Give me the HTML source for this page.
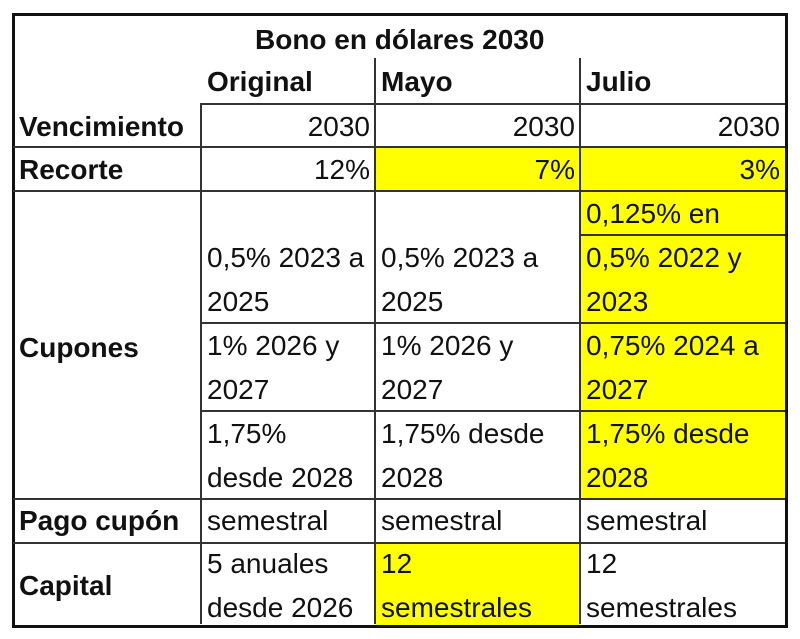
<!DOCTYPE html>
<html><head><meta charset="utf-8"><style>
body{margin:0;width:800px;height:639px;background:#fff;position:relative;overflow:hidden;font-family:"Liberation Sans",sans-serif;color:#111}
.y{position:absolute;background:#ffff00}
.h{position:absolute;height:2px;background:#333}
.v{position:absolute;width:2px;background:#333}
.t{position:absolute;font-size:28px;line-height:30px;white-space:nowrap;transform:translateY(-15px)}
.b{font-weight:bold}
.r{text-align:right;width:200px}
</style></head><body>
<div class="y" style="left:376px;top:148px;width:204px;height:43px"></div>
<div class="y" style="left:581px;top:148px;width:204px;height:350px"></div>
<div class="y" style="left:376px;top:543px;width:204px;height:82px"></div>

<div style="position:absolute;left:12px;top:13px;width:770px;height:609px;border:3px solid #111"></div>
<div class="v" style="left:200px;top:104px;height:520px"></div>
<div class="v" style="left:374px;top:58px;height:566px"></div>
<div class="v" style="left:579px;top:58px;height:566px"></div>
<div class="h" style="left:200px;top:103px;width:585px"></div>
<div class="h" style="left:13px;top:146px;width:772px"></div>
<div class="h" style="left:13px;top:190px;width:772px"></div>
<div class="h" style="left:579px;top:234px;width:206px"></div>
<div class="h" style="left:200px;top:322px;width:585px"></div>
<div class="h" style="left:200px;top:410px;width:585px"></div>
<div class="h" style="left:13px;top:498px;width:772px"></div>
<div class="h" style="left:13px;top:542px;width:772px"></div>

<div class="t b" style="left:255px;top:40px">Bono en dólares 2030</div>
<div class="t b" style="left:207px;top:82px">Original</div>
<div class="t b" style="left:381px;top:82px">Mayo</div>
<div class="t b" style="left:586px;top:82px">Julio</div>
<div class="t b" style="left:19px;top:127px">Vencimiento</div>
<div class="t r" style="left:170px;top:127px">2030</div>
<div class="t r" style="left:375px;top:127px">2030</div>
<div class="t r" style="left:580px;top:127px">2030</div>
<div class="t b" style="left:19px;top:170px">Recorte</div>
<div class="t r" style="left:170px;top:170px">12%</div>
<div class="t r" style="left:375px;top:170px">7%</div>
<div class="t r" style="left:580px;top:170px">3%</div>
<div class="t" style="left:586px;top:214px">0,125% en</div>
<div class="t b" style="left:19px;top:348px">Cupones</div>
<div class="t" style="left:207px;top:258px">0,5% 2023 a</div>
<div class="t" style="left:207px;top:302px">2025</div>
<div class="t" style="left:381px;top:258px">0,5% 2023 a</div>
<div class="t" style="left:381px;top:302px">2025</div>
<div class="t" style="left:586px;top:258px">0,5% 2022 y</div>
<div class="t" style="left:586px;top:302px">2023</div>
<div class="t" style="left:207px;top:346px">1% 2026 y</div>
<div class="t" style="left:207px;top:390px">2027</div>
<div class="t" style="left:381px;top:346px">1% 2026 y</div>
<div class="t" style="left:381px;top:390px">2027</div>
<div class="t" style="left:586px;top:346px">0,75% 2024 a</div>
<div class="t" style="left:586px;top:390px">2027</div>
<div class="t" style="left:207px;top:434px">1,75%</div>
<div class="t" style="left:207px;top:478px">desde 2028</div>
<div class="t" style="left:381px;top:434px">1,75% desde</div>
<div class="t" style="left:381px;top:478px">2028</div>
<div class="t" style="left:586px;top:434px">1,75% desde</div>
<div class="t" style="left:586px;top:478px">2028</div>
<div class="t b" style="left:19px;top:521px">Pago cupón</div>
<div class="t" style="left:207px;top:521px">semestral</div>
<div class="t" style="left:381px;top:521px">semestral</div>
<div class="t" style="left:586px;top:521px">semestral</div>
<div class="t b" style="left:19px;top:586px">Capital</div>
<div class="t" style="left:207px;top:564px">5 anuales</div>
<div class="t" style="left:207px;top:608px">desde 2026</div>
<div class="t" style="left:381px;top:564px">12</div>
<div class="t" style="left:381px;top:608px">semestrales</div>
<div class="t" style="left:586px;top:564px">12</div>
<div class="t" style="left:586px;top:608px">semestrales</div>
</body></html>
